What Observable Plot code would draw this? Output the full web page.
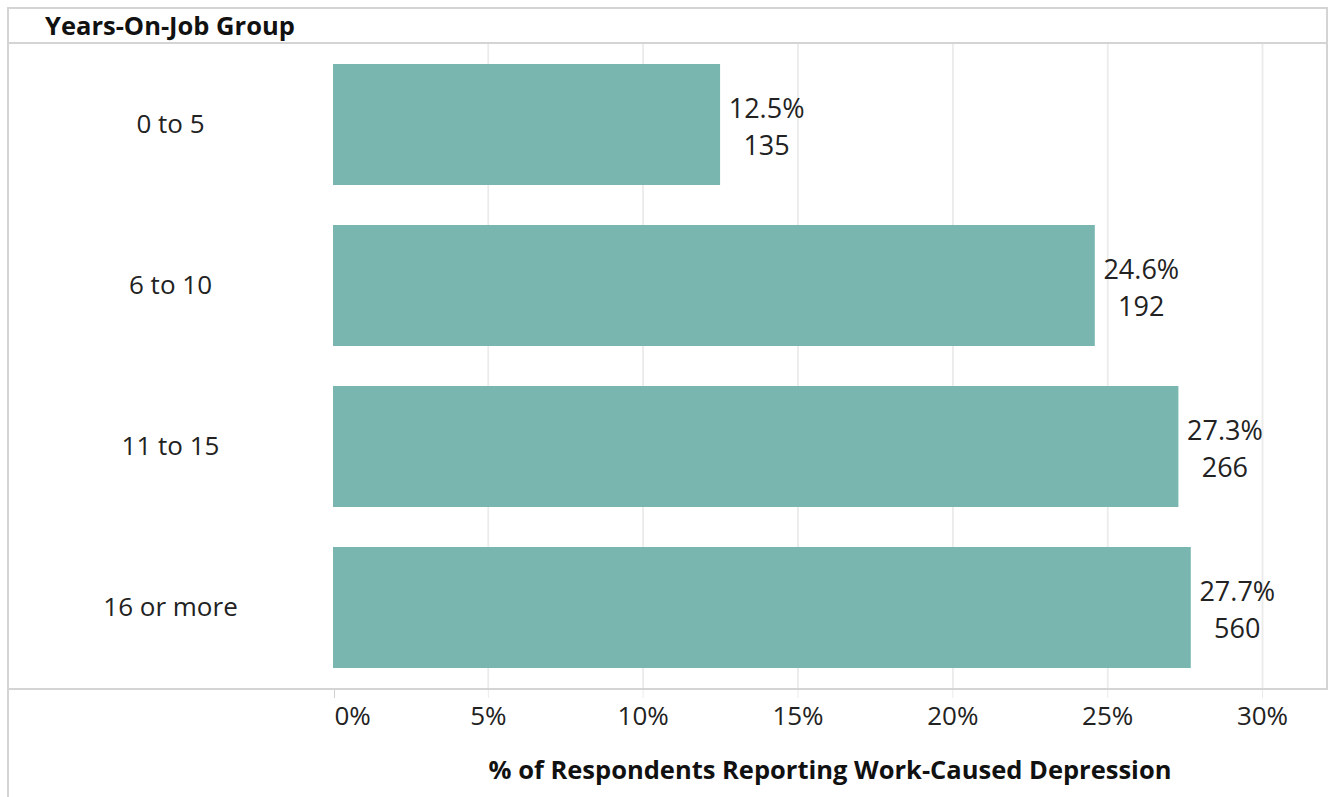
<!DOCTYPE html>
<html>
<head>
<meta charset="utf-8">
<script src="https://cdn.jsdelivr.net/npm/d3@7"></script>
<script src="https://cdn.jsdelivr.net/npm/@observablehq/plot@0.6"></script>
<style>
  html, body { margin: 0; padding: 0; background: #fff; }
  #wrap { position: relative; width: 1328px; height: 797px; overflow: hidden; font-family: "Open Sans", sans-serif; }
  .ln { position: absolute; background: #d4d4d4; }
  #title { position: absolute; left: 45px; top: 6px; font-weight: 700; font-size: 25.5px; line-height: 38px; color: #111; }
  #xlabel { position: absolute; left: 333px; width: 994px; top: 750px; text-align: center; font-weight: 700; font-size: 25.5px; line-height: 38px; color: #111; }
</style>
</head>
<body>
<div id="wrap">
  <div id="chart"></div>
  <div class="ln" style="left:8px;top:7px;width:1320px;height:2px;"></div>
  <div class="ln" style="left:8px;top:42px;width:1320px;height:2px;"></div>
  <div class="ln" style="left:8px;top:688px;width:1320px;height:2px;"></div>
  <div class="ln" style="left:7px;top:7px;width:2px;height:790px;"></div>
  <div class="ln" style="left:1326px;top:7px;width:2px;height:683px;"></div>
  <div id="title">Years-On-Job Group</div>
  <div id="xlabel">% of Respondents Reporting Work-Caused Depression</div>
</div>
<script>
const categories = ["0 to 5", "6 to 10", "11 to 15", "16 or more"];
const percents = [12.5, 24.6, 27.3, 27.7];
const counts = [135, 192, 266, 560];
const xTicks = [0, 5, 10, 15, 20, 25, 30];

const data = categories.map((c, i) => ({ group: c, pct: percents[i], n: counts[i] }));

const chart = Plot.plot({
  width: 1328,
  height: 797,
  marginLeft: 333,
  marginRight: 66,
  marginTop: 43,
  marginBottom: 108,
  style: { fontFamily: "Open Sans, sans-serif", background: "transparent", overflow: "visible" },
  x: { domain: [0, 30], ticks: xTicks },
  y: { domain: categories, paddingInner: 0.25, paddingOuter: 0.125 },
  marks: [
    Plot.gridX(xTicks.filter(d => d > 0), { stroke: "#ebebeb", strokeOpacity: 1, strokeWidth: 1.5 }),
    Plot.tickX(xTicks.filter(d => d > 0), { x: d => d, stroke: "#ebebeb", strokeWidth: 1.5 }),
    Plot.barX(data, { x: "pct", y: "group", fill: "#79b6b0" }),
    Plot.ruleX([0], { stroke: "#d0d0d0", strokeWidth: 2, y1: null }),
    Plot.axisX([0], { tickSize: 9, stroke: "#d0d0d0", tickPadding: 8, textAnchor: "start", dx: 1, tickFormat: d => d + "%", fontSize: 26, fill: "#222", label: null }),
    Plot.axisX(xTicks.filter(d => d > 0), { tickSize: 9, stroke: "#ebebeb", tickPadding: 8, tickFormat: d => d + "%", fontSize: 26, fill: "#222", label: null }),
    Plot.axisY({ tickSize: 0, tickPadding: 0, textAnchor: "middle", dx: -163, fontSize: 26, fill: "#222", label: null }),
    Plot.text(data, { x: "pct", y: "group", text: d => `${d.pct}%\n${d.n}`, textAnchor: "middle", dx: 46, fontSize: 27, lineHeight: 1.37, fill: "#222" })
  ]
});
document.getElementById("chart").appendChild(chart);
</script>
</body>
</html>
